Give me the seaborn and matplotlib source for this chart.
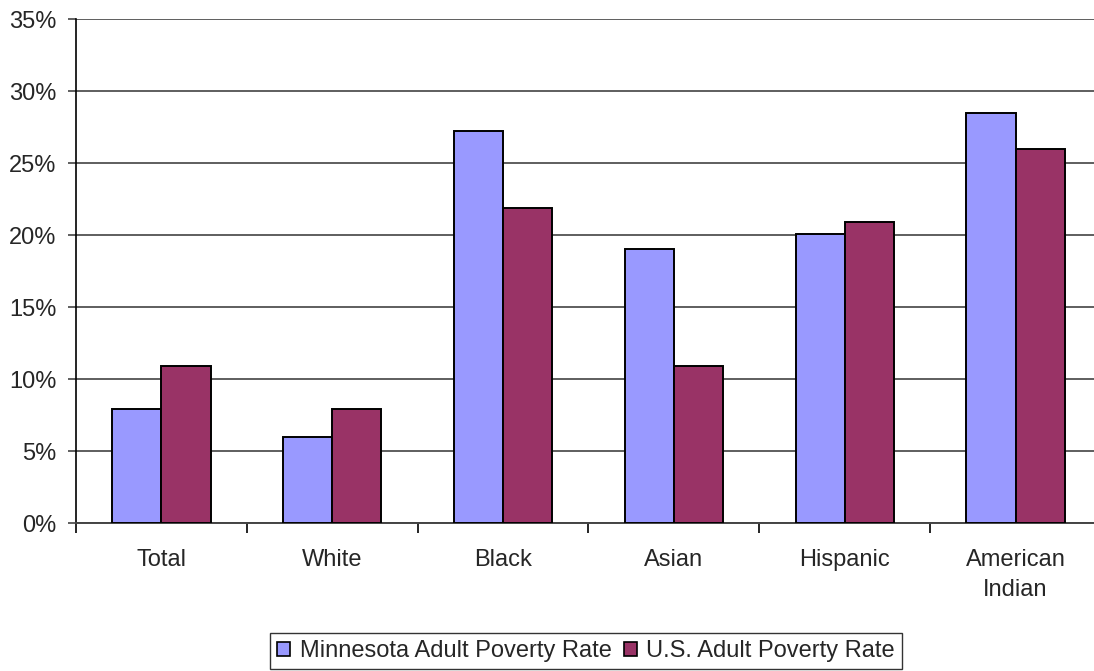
import matplotlib
matplotlib.use("Agg")
import matplotlib.pyplot as plt
import seaborn as sns
import pandas as pd
import numpy as np
from matplotlib.ticker import FuncFormatter, MultipleLocator, FixedLocator

# Adult poverty rates (%) by race / ethnicity
groups = ["Total", "White", "Black", "Asian", "Hispanic", "American\nIndian"]
mn_rate = [7.9, 6.0, 27.2, 19.0, 20.1, 28.5]
us_rate = [10.9, 7.9, 21.9, 10.9, 20.9, 26.0]
series = ["Minnesota Adult Poverty Rate", "U.S. Adult Poverty Rate"]
palette = ["#9999FF", "#993366"]

df = pd.DataFrame({
    "group": groups * 2,
    "rate": mn_rate + us_rate,
    "series": [series[0]] * len(groups) + [series[1]] * len(groups),
})

sns.set_style("white")
plt.rcParams["font.family"] = ["Liberation Sans", "DejaVu Sans"]
FS = 17

fig = plt.figure(figsize=(10.94, 6.71), dpi=100)
ax = fig.add_axes([76 / 1094, 1 - 523 / 671, 1025 / 1094, 504 / 671])

sns.barplot(data=df, x="group", y="rate", hue="series", order=groups,
            hue_order=series, palette=palette, width=0.575, gap=0,
            edgecolor="black", linewidth=1.4, saturation=1, ax=ax,
            legend=True, zorder=3)

ax.set_xlim(-0.5, len(groups) - 0.5)
ax.set_ylim(0, 35)
ax.yaxis.set_major_locator(MultipleLocator(5))
ax.yaxis.set_major_formatter(FuncFormatter(lambda v, p: f"{v:.0f}%"))
ax.yaxis.grid(True, color="#333333", linewidth=1.1, zorder=0)
ax.set_axisbelow(True)
ax.set_xlabel("")
ax.set_ylabel("")

for side in ["top", "right"]:
    ax.spines[side].set_visible(False)
ax.spines["left"].set_color("black")
ax.spines["left"].set_linewidth(1.2)
ax.spines["bottom"].set_color("#444444")
ax.spines["bottom"].set_linewidth(1.4)

# Category labels centred, separator ticks at group boundaries
ax.xaxis.set_minor_locator(FixedLocator(np.arange(-0.5, len(groups), 1.0)))
ax.tick_params(axis="x", which="major", length=0, pad=18.5, labelsize=FS)
ax.tick_params(axis="x", which="minor", length=7, width=1.2, color="black",
               direction="out", bottom=True)
ax.tick_params(axis="y", which="major", length=6, width=1.2, color="#444444",
               direction="out", left=True, pad=8, labelsize=FS)
for lbl in ax.get_xticklabels():
    lbl.set_linespacing(1.5)

ax.get_legend().remove()
handles = [plt.Rectangle((0, 0), 1, 1, facecolor=c, edgecolor="black", linewidth=1.2)
           for c in palette]
leg = fig.legend(handles, series, loc="center", bbox_to_anchor=(586 / 1094, 1 - 651 / 671),
                 ncol=2, fontsize=FS, frameon=True, fancybox=False,
                 handlelength=0.55, handleheight=0.55, handletextpad=0.4,
                 columnspacing=0.5, borderpad=0.3, borderaxespad=0)
leg.get_frame().set_edgecolor("black")
leg.get_frame().set_linewidth(1.0)

fig.savefig("out.png", dpi=100)
